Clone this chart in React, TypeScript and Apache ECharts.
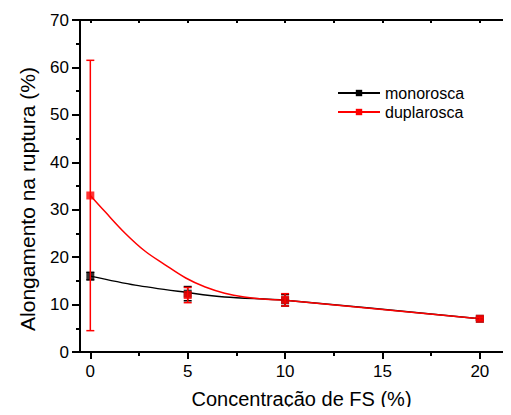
import React, { useEffect, useRef } from "react";
import * as echarts from "echarts";

// Measured points (concentration of FS, elongation at break)
const concentrations = [0, 5, 10, 20];
const monoValues = [16, 12.3, 10.9, 7];
const monoErr = [0.8, 1.5, 1.2, 0.3];
const duplaValues = [33, 12, 11, 7];
const duplaErr = [28.5, 1.6, 1.3, 0.3];

// Fitted curves drawn through the measurements
const monoCurveX = [0, 2.3, 4.9, 6.9, 10, 20];
const monoCurveY = [16, 14.1, 12.6, 11.6, 10.9, 7];
const duplaCurveX = [0, 0.75, 1.8, 2.8, 3.8, 4.9, 5.9, 6.9, 7.9, 9.0, 10, 20];
const duplaCurveY = [33, 29.6, 25.0, 21.3, 18.5, 15.6, 13.7, 12.4, 11.6, 11.1, 10.9, 7];

// Axis ticks
const xMajorTicks = [0, 5, 10, 15, 20];
const xMinorTicks = [2.5, 7.5, 12.5, 17.5];
const xTopTicks = [0, 2.5, 5, 7.5, 10, 12.5, 15, 17.5, 20];

const FONT = "Liberation Sans, Arial, sans-serif";
const BLACK = "#000000";
const RED = "#ff0000";

function zip(xs: number[], ys: number[]) {
  return xs.map((x, i) => [x, ys[i]]);
}

function errorSeries(name: string, color: string, values: number[], errs: number[], z: number) {
  return {
    name,
    type: "custom",
    xAxisIndex: 0,
    yAxisIndex: 0,
    z,
    data: concentrations.map((x, i) => [x, values[i] - errs[i], values[i] + errs[i]]),
    renderItem: (_params: any, api: any) => {
      const lo = api.coord([api.value(0), api.value(1)]);
      const hi = api.coord([api.value(0), api.value(2)]);
      const half = 4;
      const style = { stroke: color, lineWidth: 1.5 };
      return {
        type: "group",
        children: [
          { type: "line", shape: { x1: lo[0], y1: lo[1], x2: hi[0], y2: hi[1] }, style },
          { type: "line", shape: { x1: lo[0] - half, y1: lo[1], x2: lo[0] + half, y2: lo[1] }, style },
          { type: "line", shape: { x1: hi[0] - half, y1: hi[1], x2: hi[0] + half, y2: hi[1] }, style },
        ],
      };
    },
  };
}

export default function App() {
  const ref = useRef<HTMLDivElement>(null);

  useEffect(() => {
    if (!ref.current) return;
    const chart = echarts.init(ref.current, null, { renderer: "svg" });
    const xMin = -0.53;
    const xMax = 21.6;

    chart.setOption({
      animation: false,
      backgroundColor: "#ffffff",
      textStyle: { fontFamily: FONT },
      grid: { left: 80, right: 0, top: 20, bottom: 63, containLabel: false },
      legend: {
        orient: "vertical",
        left: 332,
        top: 80,
        itemWidth: 42,
        itemHeight: 8,
        itemGap: 3,
        data: ["monorosca", "duplarosca"],
        textStyle: { fontSize: 16, color: "#000", fontFamily: FONT },
      },
      xAxis: [
        {
          type: "value",
          position: "bottom",
          min: xMin,
          max: xMax,
          name: "Concentração de FS (%)",
          nameLocation: "middle",
          nameGap: 37,
          nameTextStyle: { fontSize: 20, color: "#000", fontFamily: FONT, padding: [0, 0, 0, 12] },
          axisLine: { onZero: false, lineStyle: { color: BLACK, width: 2 } },
          axisTick: { customValues: xMajorTicks, length: 7, lineStyle: { width: 2, color: BLACK } },
          axisLabel: { customValues: xMajorTicks, fontSize: 17, color: "#000", margin: 11, fontFamily: FONT },
          splitLine: { show: false },
        },
        {
          type: "value",
          position: "bottom",
          min: xMin,
          max: xMax,
          axisLine: { show: false, onZero: false },
          axisTick: { customValues: xMinorTicks, length: 4, lineStyle: { width: 2, color: BLACK } },
          axisLabel: { show: false },
          splitLine: { show: false },
        },
        {
          type: "value",
          position: "top",
          min: xMin,
          max: xMax,
          axisLine: { onZero: false, lineStyle: { color: BLACK, width: 2 } },
          axisTick: { customValues: xTopTicks, inside: true, length: 3, lineStyle: { width: 2, color: BLACK } },
          axisLabel: { show: false },
          splitLine: { show: false },
        },
      ],
      yAxis: {
        type: "value",
        min: 0,
        max: 70,
        interval: 10,
        name: "Alongamento na ruptura (%)",
        nameLocation: "middle",
        nameGap: 42,
        nameTextStyle: { fontSize: 21, color: "#000", fontFamily: FONT, padding: [0, 26, 0, 0] },
        axisLine: { show: true, onZero: false, lineStyle: { color: BLACK, width: 2 } },
        axisTick: { show: true, length: 8, lineStyle: { width: 2, color: BLACK } },
        minorTick: { show: true, splitNumber: 2, length: 4, lineStyle: { width: 2, color: BLACK } },
        axisLabel: { fontSize: 17, color: "#000", margin: 11, fontFamily: FONT },
        splitLine: { show: false },
        minorSplitLine: { show: false },
      },
      series: [
        {
          name: "monorosca",
          type: "line",
          xAxisIndex: 0,
          data: zip(monoCurveX, monoCurveY),
          smooth: 0.3,
          showSymbol: false,
          symbol: "rect",
          symbolSize: 8,
          lineStyle: { color: BLACK, width: 1.5 },
          itemStyle: { color: BLACK },
          z: 2,
        },
        {
          name: "duplarosca",
          type: "line",
          xAxisIndex: 0,
          data: zip(duplaCurveX, duplaCurveY),
          smooth: 0.35,
          showSymbol: false,
          symbol: "rect",
          symbolSize: 8,
          lineStyle: { color: RED, width: 1.5 },
          itemStyle: { color: RED },
          z: 3,
        },
        errorSeries("monorosca", BLACK, monoValues, monoErr, 4),
        {
          name: "monorosca",
          type: "scatter",
          xAxisIndex: 0,
          data: zip(concentrations, monoValues),
          symbol: "rect",
          symbolSize: 8,
          itemStyle: { color: BLACK },
          z: 5,
        },
        errorSeries("duplarosca", RED, duplaValues, duplaErr, 6),
        {
          name: "duplarosca",
          type: "scatter",
          xAxisIndex: 0,
          data: zip(concentrations, duplaValues),
          symbol: "rect",
          symbolSize: 8,
          itemStyle: { color: RED },
          z: 7,
        },
      ],
    });

    return () => chart.dispose();
  }, []);

  return <div ref={ref} style={{ width: 511, height: 415, margin: -8 }} />;
}
